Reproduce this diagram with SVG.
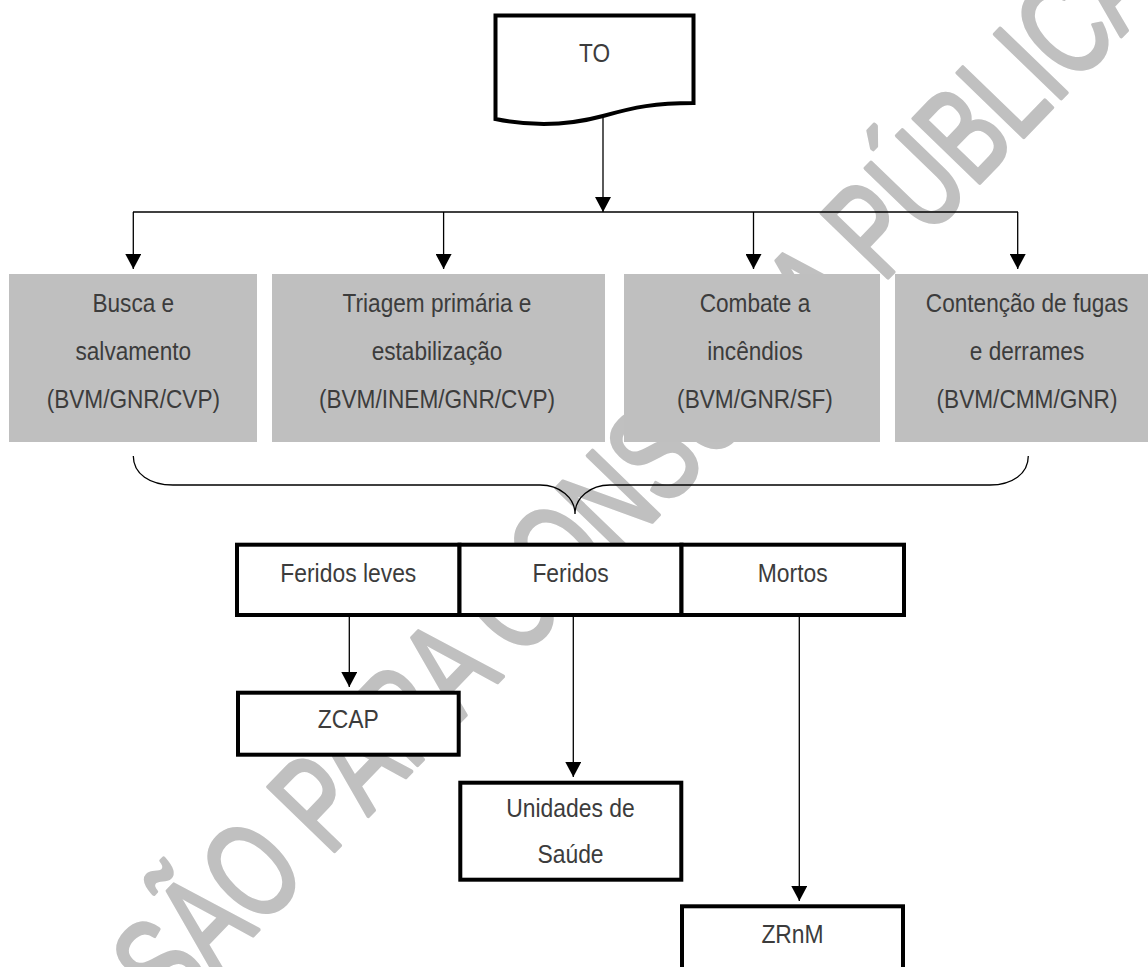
<svg xmlns="http://www.w3.org/2000/svg" width="1148" height="967" viewBox="0 0 1148 967">
<style>
.wm{font-family:"Liberation Sans",Arial,sans-serif;font-size:134px;fill:#c0c0c0;stroke:#c0c0c0;stroke-width:4;stroke-linejoin:round}
.t{font-family:"Liberation Sans",Arial,sans-serif;font-size:26px;fill:#3c3c3c;text-anchor:middle}
.gray{fill:#bfbfbf;stroke:none}
.box{fill:#fff;stroke:#000;stroke-width:4}
.con{fill:none;stroke:#000;stroke-width:1.3}
</style>
<defs>
<marker id="ah" markerUnits="userSpaceOnUse" markerWidth="15" markerHeight="16" viewBox="0 0 15 16" refX="15" refY="8" orient="auto">
<path d="M0,0 L15,8 L0,16 Z" fill="#000"/>
</marker>
</defs>
<rect width="1148" height="967" fill="#fff"/>
<text class="wm" text-anchor="middle" transform="translate(600,576) rotate(-46) scale(0.709,1)">VERSÃO PARA CONSULTA PÚBLICA</text>

<g id="to">
<path class="box" d="M495.5,15.5 H693.5 V103 C655,103 635,107 603,116 C570,125 535,127 495.5,119 Z"/>
<text class="t" transform="translate(594.5,0) scale(0.87,1)" x="0" y="62">TO</text>
</g>

<g id="busca">
<rect class="gray" x="9" y="274" width="248" height="168"/>
<text class="t" transform="translate(133.3,0) scale(0.87,1)" x="0" y="312.5">Busca e</text>
<text class="t" transform="translate(133.3,0) scale(0.87,1)" x="0" y="360.5">salvamento</text>
<text class="t" transform="translate(133.3,0) scale(0.87,1)" x="0" y="408.5">(BVM/GNR/CVP)</text>
</g>

<g id="triagem">
<rect class="gray" x="272" y="274" width="333" height="168"/>
<text class="t" transform="translate(437,0) scale(0.87,1)" x="0" y="312.5">Triagem primária e</text>
<text class="t" transform="translate(437,0) scale(0.87,1)" x="0" y="360.5">estabilização</text>
<text class="t" transform="translate(437,0) scale(0.87,1)" x="0" y="408.5">(BVM/INEM/GNR/CVP)</text>
</g>

<g id="combate">
<rect class="gray" x="624" y="274" width="256" height="168"/>
<text class="t" transform="translate(755,0) scale(0.87,1)" x="0" y="312.5">Combate a</text>
<text class="t" transform="translate(755,0) scale(0.87,1)" x="0" y="360.5">incêndios</text>
<text class="t" transform="translate(755,0) scale(0.87,1)" x="0" y="408.5">(BVM/GNR/SF)</text>
</g>

<g id="contencao">
<rect class="gray" x="895" y="274" width="253" height="168"/>
<text class="t" transform="translate(1027,0) scale(0.87,1)" x="0" y="312.5">Contenção de fugas</text>
<text class="t" transform="translate(1027,0) scale(0.87,1)" x="0" y="360.5">e derrames</text>
<text class="t" transform="translate(1027,0) scale(0.87,1)" x="0" y="408.5">(BVM/CMM/GNR)</text>
</g>

<g id="feridos-leves">
<rect class="box" x="237" y="544.7" width="222.5" height="70.3"/>
<text class="t" transform="translate(348.3,0) scale(0.88,1)" x="0" y="582">Feridos leves</text>
</g>

<g id="feridos">
<rect class="box" x="459.5" y="544.7" width="222" height="70.3"/>
<text class="t" transform="translate(570.5,0) scale(0.88,1)" x="0" y="582">Feridos</text>
</g>

<g id="mortos">
<rect class="box" x="681.5" y="544.7" width="222.5" height="70.3"/>
<text class="t" transform="translate(792.7,0) scale(0.88,1)" x="0" y="582">Mortos</text>
</g>

<g id="zcap">
<rect class="box" x="238" y="692.7" width="220.7" height="62"/>
<text class="t" transform="translate(348.3,0) scale(0.88,1)" x="0" y="728">ZCAP</text>
</g>

<g id="unidades">
<rect class="box" x="460.3" y="782.7" width="221" height="97"/>
<text class="t" transform="translate(570.5,0) scale(0.88,1)" x="0" y="817.5">Unidades de</text>
<text class="t" transform="translate(570.5,0) scale(0.88,1)" x="0" y="863.5">Saúde</text>
</g>

<g id="zrnm">
<rect class="box" x="682" y="906.3" width="221" height="100"/>
<text class="t" transform="translate(792.5,0) scale(0.88,1)" x="0" y="943">ZRnM</text>
</g>

<g id="connectors">
<path class="con" d="M603,118 V212" marker-end="url(#ah)"/>
<path class="con" d="M133,212 H1018"/>
<path class="con" d="M133.3,212 V269" marker-end="url(#ah)"/>
<path class="con" d="M443.6,212 V269" marker-end="url(#ah)"/>
<path class="con" d="M753.5,212 V269" marker-end="url(#ah)"/>
<path class="con" d="M1017.7,212 V269" marker-end="url(#ah)"/>
<path class="con" d="M133.3,456 C133.3,474 150,485 173,485 H540 C560,485 575,498 575,514 C575,498 590,485 610,485 H990 C1012,485 1028.3,474 1028.3,456"/>
<path class="con" d="M349.3,617 V687" marker-end="url(#ah)"/>
<path class="con" d="M573.3,617 V777" marker-end="url(#ah)"/>
<path class="con" d="M799.3,617 V901" marker-end="url(#ah)"/>
</g>
</svg>
